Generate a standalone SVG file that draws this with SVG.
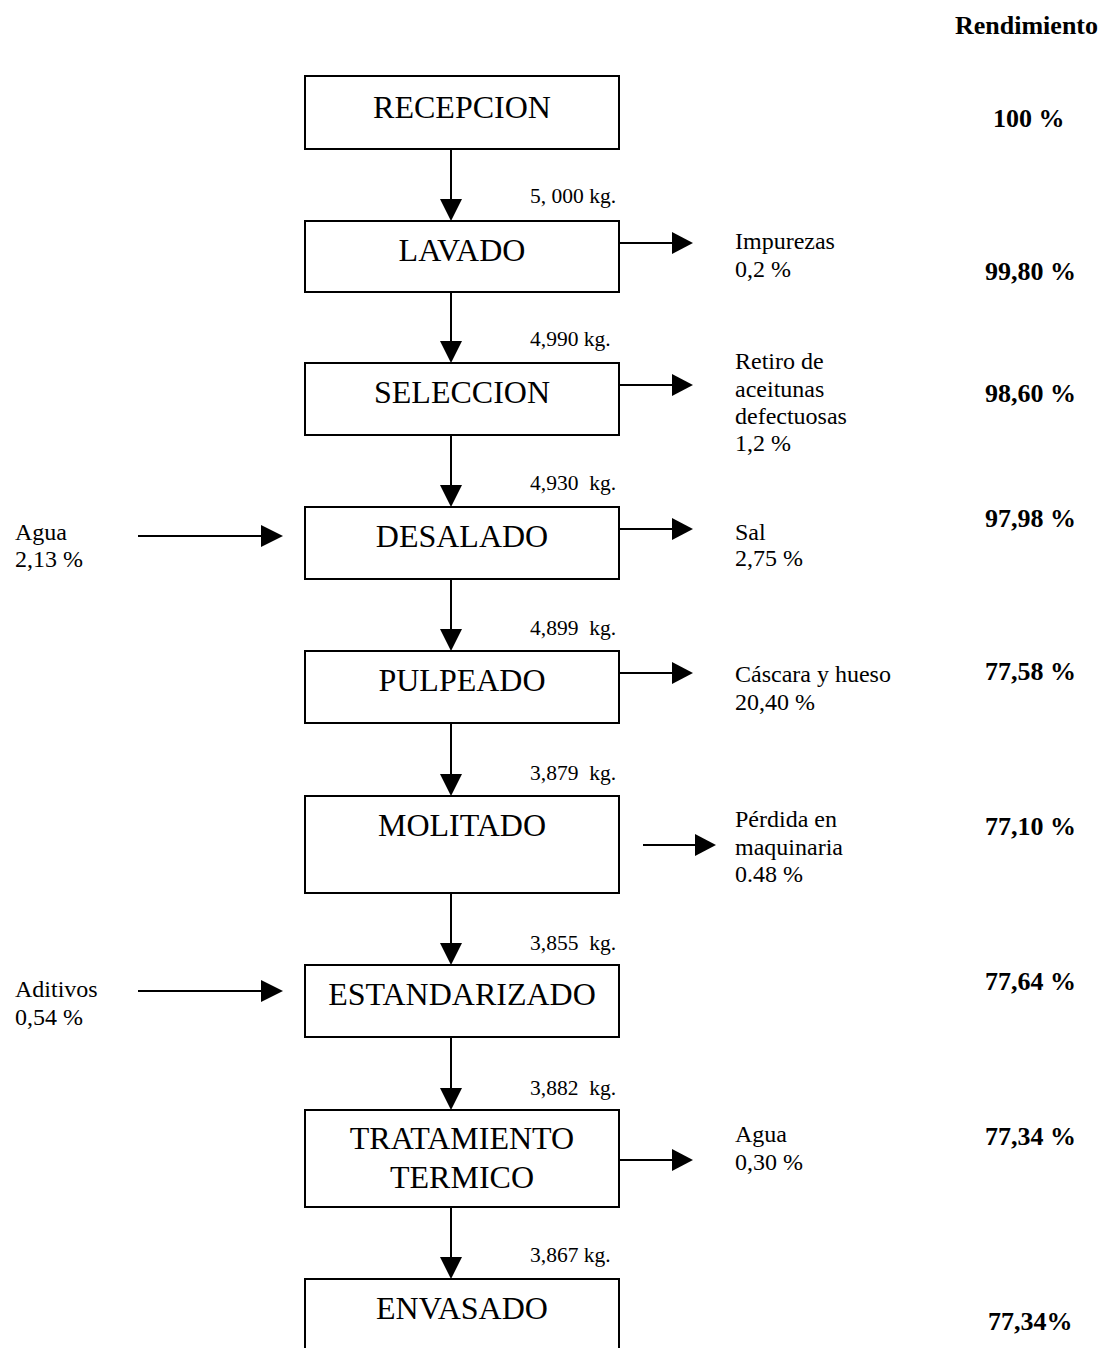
<svg xmlns="http://www.w3.org/2000/svg" width="1104" height="1348" viewBox="0 0 1104 1348">
<defs>
<style>
.box{fill:#fff;stroke:#000;stroke-width:2}
.bt{font-family:"Liberation Serif","Times New Roman",serif;font-size:32px;text-anchor:middle;fill:#000}
.lb{font-family:"Liberation Serif","Times New Roman",serif;font-size:24px;fill:#000}
.kg{font-family:"Liberation Serif","Times New Roman",serif;font-size:21.5px;fill:#000;white-space:pre}
.rv{font-family:"Liberation Serif","Times New Roman",serif;font-size:26px;font-weight:bold;fill:#000}
.ln{stroke:#000;stroke-width:2;fill:none}
.hd{fill:#000}
</style>
</defs>
<rect width="1104" height="1348" fill="#fff"/>
<text class="rv" x="955" y="34">Rendimiento</text>

<g id="connectors">
<line class="ln" x1="451" y1="149" x2="451" y2="200"/><path class="hd" d="M440,199 L462,199 L451,221 z"/>
<line class="ln" x1="451" y1="292" x2="451" y2="342"/><path class="hd" d="M440,341 L462,341 L451,363 z"/>
<line class="ln" x1="451" y1="435" x2="451" y2="486"/><path class="hd" d="M440,485 L462,485 L451,507 z"/>
<line class="ln" x1="451" y1="579" x2="451" y2="630"/><path class="hd" d="M440,629 L462,629 L451,651 z"/>
<line class="ln" x1="451" y1="723" x2="451" y2="775"/><path class="hd" d="M440,774 L462,774 L451,796 z"/>
<line class="ln" x1="451" y1="893" x2="451" y2="944"/><path class="hd" d="M440,943 L462,943 L451,965 z"/>
<line class="ln" x1="451" y1="1037" x2="451" y2="1089"/><path class="hd" d="M440,1088 L462,1088 L451,1110 z"/>
<line class="ln" x1="451" y1="1207" x2="451" y2="1258"/><path class="hd" d="M440,1257 L462,1257 L451,1279 z"/>

<line class="ln" x1="620" y1="243" x2="673" y2="243"/><path class="hd" d="M672,232 L693,243 L672,254 z"/>
<line class="ln" x1="620" y1="385" x2="673" y2="385"/><path class="hd" d="M672,374 L693,385 L672,396 z"/>
<line class="ln" x1="620" y1="529" x2="673" y2="529"/><path class="hd" d="M672,518 L693,529 L672,540 z"/>
<line class="ln" x1="620" y1="673" x2="673" y2="673"/><path class="hd" d="M672,662 L693,673 L672,684 z"/>
<line class="ln" x1="643" y1="845" x2="696" y2="845"/><path class="hd" d="M695,834 L716,845 L695,856 z"/>
<line class="ln" x1="620" y1="1160" x2="673" y2="1160"/><path class="hd" d="M672,1149 L693,1160 L672,1171 z"/>

<line class="ln" x1="138" y1="536" x2="262" y2="536"/><path class="hd" d="M261,525 L283,536 L261,547 z"/>
<line class="ln" x1="138" y1="991" x2="262" y2="991"/><path class="hd" d="M261,980 L283,991 L261,1002 z"/>
</g>

<g id="recepcion"><rect class="box" x="305" y="76" width="314" height="73"/><text class="bt" x="462" y="118">RECEPCION</text></g>
<g id="lavado"><rect class="box" x="305" y="221" width="314" height="71"/><text class="bt" x="462" y="261">LAVADO</text></g>
<g id="seleccion"><rect class="box" x="305" y="363" width="314" height="72"/><text class="bt" x="462" y="403">SELECCION</text></g>
<g id="desalado"><rect class="box" x="305" y="507" width="314" height="72"/><text class="bt" x="462" y="547">DESALADO</text></g>
<g id="pulpeado"><rect class="box" x="305" y="651" width="314" height="72"/><text class="bt" x="462" y="691">PULPEADO</text></g>
<g id="molitado"><rect class="box" x="305" y="796" width="314" height="97"/><text class="bt" x="462" y="836">MOLITADO</text></g>
<g id="estandarizado"><rect class="box" x="305" y="965" width="314" height="72"/><text class="bt" x="462" y="1005">ESTANDARIZADO</text></g>
<g id="tratamiento"><rect class="box" x="305" y="1110" width="314" height="97"/><text class="bt" x="462" y="1149">TRATAMIENTO</text><text class="bt" x="462" y="1188">TERMICO</text></g>
<g id="envasado"><rect class="box" x="305" y="1279" width="314" height="80"/><text class="bt" x="462" y="1319">ENVASADO</text></g>

<g id="flow-labels">
<text class="kg" x="530" y="203">5, 000 kg.</text>
<text class="kg" x="530" y="346">4,990 kg.</text>
<text class="kg" x="530" y="490">4,930  kg.</text>
<text class="kg" x="530" y="635">4,899  kg.</text>
<text class="kg" x="530" y="780">3,879  kg.</text>
<text class="kg" x="530" y="950">3,855  kg.</text>
<text class="kg" x="530" y="1095">3,882  kg.</text>
<text class="kg" x="530" y="1262">3,867 kg.</text>
</g>

<g id="side-labels">
<text class="lb" x="735" y="249">Impurezas</text><text class="lb" x="735" y="277">0,2 %</text>
<text class="lb" x="735" y="369">Retiro de</text><text class="lb" x="735" y="397">aceitunas</text><text class="lb" x="735" y="424">defectuosas</text><text class="lb" x="735" y="451">1,2 %</text>
<text class="lb" x="735" y="540">Sal</text><text class="lb" x="735" y="566">2,75 %</text>
<text class="lb" x="735" y="682">Cáscara y hueso</text><text class="lb" x="735" y="710">20,40 %</text>
<text class="lb" x="735" y="827">Pérdida en</text><text class="lb" x="735" y="855">maquinaria</text><text class="lb" x="735" y="882">0.48 %</text>
<text class="lb" x="735" y="1142">Agua</text><text class="lb" x="735" y="1170">0,30 %</text>
<text class="lb" x="15" y="540">Agua</text><text class="lb" x="15" y="567">2,13 %</text>
<text class="lb" x="15" y="997">Aditivos</text><text class="lb" x="15" y="1025">0,54 %</text>
</g>

<g id="rendimiento">
<text class="rv" x="993" y="127">100 %</text>
<text class="rv" x="985" y="280">99,80 %</text>
<text class="rv" x="985" y="402">98,60 %</text>
<text class="rv" x="985" y="527">97,98 %</text>
<text class="rv" x="985" y="680">77,58 %</text>
<text class="rv" x="985" y="835">77,10 %</text>
<text class="rv" x="985" y="990">77,64 %</text>
<text class="rv" x="985" y="1145">77,34 %</text>
<text class="rv" x="988" y="1330">77,34%</text>
</g>
</svg>
